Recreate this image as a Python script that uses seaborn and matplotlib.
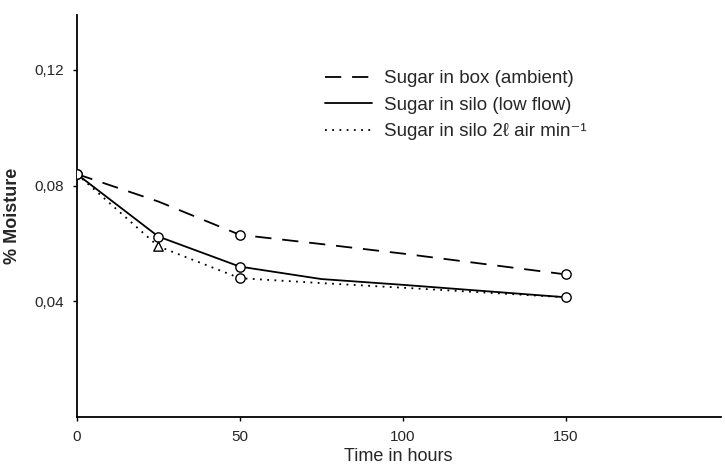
import numpy as np
import pandas as pd
import seaborn as sns
import matplotlib.pyplot as plt

# values (time in hours, % moisture)
box_time = [0, 25, 50, 75, 100, 150]
box_moist = [0.084, 0.0745, 0.063, 0.0598, 0.0565, 0.0493]
box_mark_time = [0, 50, 150]
box_mark_moist = [0.084, 0.063, 0.0493]

silo_time = [0, 25, 50, 75, 100, 150]
silo_moist = [0.084, 0.0624, 0.052, 0.0477, 0.0457, 0.0414]
silo_mark_time = [0, 25, 50, 150]
silo_mark_moist = [0.084, 0.0624, 0.052, 0.0414]

air_time = [0, 25, 50, 75, 100, 150]
air_moist = [0.084, 0.059, 0.048, 0.0463, 0.0447, 0.0414]
air_circ_time = [50]
air_circ_moist = [0.048]
air_tri_time = [25]
air_tri_moist = [0.059]

yticks = [0.04, 0.08, 0.12]
ytick_labels = ["0,04", "0,08", "0,12"]
xticks = [0, 50, 100, 150]

sns.set_style("white")
plt.rcParams['font.family'] = ['Liberation Sans', 'DejaVu Sans']

fig = plt.figure(figsize=(7.25, 4.67), dpi=100)
ax = fig.add_axes([0.106, 0.107, 0.888, 0.861])

sns.lineplot(x=box_time, y=box_moist, ax=ax, color="black", lw=1.3,
             label="Sugar in box (ambient)").lines[-1].set_dashes([9, 6])
sns.lineplot(x=silo_time, y=silo_moist, ax=ax, color="black", lw=1.3,
             label="Sugar in silo (low flow)")
sns.lineplot(x=air_time, y=air_moist, ax=ax, color="black", lw=1.3,
             label="Sugar in silo 2\u2113 air min\u207b\u00b9").lines[-1].set_linestyle((0, (1, 3)))

# open markers at measured points
ax.scatter(box_mark_time, box_mark_moist, s=45, facecolors="white", edgecolors="black", lw=1, zorder=5)
ax.scatter(silo_mark_time, silo_mark_moist, s=45, facecolors="white", edgecolors="black", lw=1, zorder=5)
ax.scatter(air_circ_time, air_circ_moist, s=45, facecolors="white", edgecolors="black", lw=1, zorder=5)
ax.scatter(air_tri_time, air_tri_moist, s=45, marker="^", facecolors="white", edgecolors="black", lw=1, zorder=5)

ax.set_xlim(0, 197.5)
ax.set_ylim(0, 0.139)
ax.set_xticks(xticks)
ax.set_xticklabels([str(t) for t in xticks], fontsize=11)
ax.set_yticks(yticks)
ax.set_yticklabels(ytick_labels, fontsize=11)
ax.tick_params(axis="both", length=3, width=1, color="black", pad=6, bottom=True, left=True)
sns.despine(ax=ax)
for s in ["left", "bottom"]:
    ax.spines[s].set_color("black")
    ax.spines[s].set_linewidth(1.3)

ax.set_xlabel("Time in hours", fontsize=13, labelpad=3)
ax.set_ylabel("% Moisture", fontsize=13, fontweight="bold")
ax.yaxis.set_label_coords(-0.087, 0.5)

leg = ax.legend(loc="upper left", bbox_to_anchor=(0.36, 0.905), frameon=False,
                fontsize=13.5, handlelength=2.5, handletextpad=0.6, labelspacing=0.5)

plt.savefig("out.png", dpi=100)
